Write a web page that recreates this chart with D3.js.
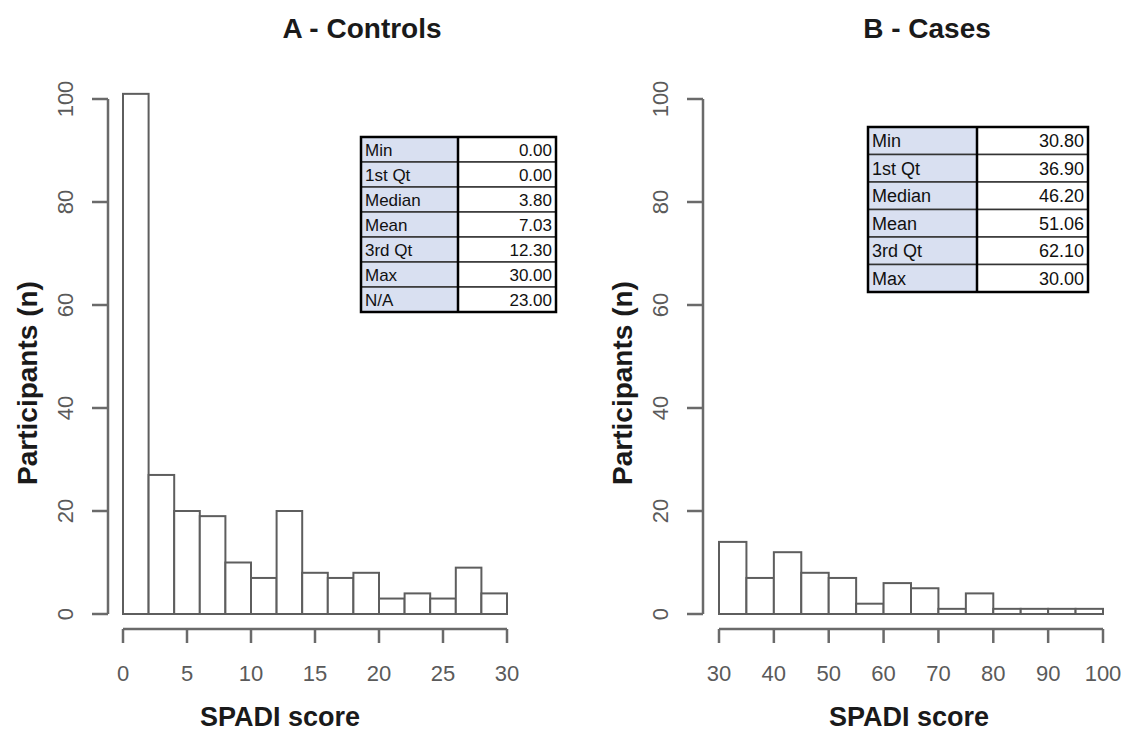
<!DOCTYPE html>
<html>
<head>
<meta charset="utf-8">
<script src="https://cdn.jsdelivr.net/npm/d3@7"></script>
<style>
  body { margin: 0; background: #fff; }
  svg { display: block; font-family: "Liberation Sans", Arial, sans-serif; }
</style>
</head>
<body>
<svg id="chart" width="1126" height="734"></svg>
<script>
// Panel A - controls (bins of 2 points)
const controlsEdges = [0, 2, 4, 6, 8, 10, 12, 14, 16, 18, 20, 22, 24, 26, 28, 30];
const controlsCounts = [101, 27, 20, 19, 10, 7, 20, 8, 7, 8, 3, 4, 3, 9, 4];
const controlsTicks = [0, 5, 10, 15, 20, 25, 30];
const controlsStatLabels = ["Min", "1st Qt", "Median", "Mean", "3rd Qt", "Max", "N/A"];
const controlsStatValues = ["0.00", "0.00", "3.80", "7.03", "12.30", "30.00", "23.00"];

// Panel B - cases (bins of 5 points)
const casesEdges = [30, 35, 40, 45, 50, 55, 60, 65, 70, 75, 80, 85, 90, 95, 100];
const casesCounts = [14, 7, 12, 8, 7, 2, 6, 5, 1, 4, 1, 1, 1, 1];
const casesTicks = [30, 40, 50, 60, 70, 80, 90, 100];
const casesStatLabels = ["Min", "1st Qt", "Median", "Mean", "3rd Qt", "Max"];
const casesStatValues = ["30.80", "36.90", "46.20", "51.06", "62.10", "30.00"];

const yTicks = [0, 20, 40, 60, 80, 100];

const svg = d3.select("#chart");
const axisColor = "#6a6a6a";
const labelColor = "#5a5a5a";

function drawPanel(opt) {
  const g = svg.append("g");
  const x = d3.scaleLinear().domain(opt.xDomain).range([opt.x0, opt.x1]);
  const y = d3.scaleLinear().domain([0, 100]).range([614, 99]);

  // title
  g.append("text")
    .attr("x", opt.titleX).attr("y", 38)
    .attr("text-anchor", "middle")
    .attr("font-size", 28).attr("font-weight", "bold").attr("fill", "#1a1a1a")
    .text(opt.title);

  // bars
  const bins = opt.counts.map((c, i) => ({ a: opt.edges[i], b: opt.edges[i + 1], n: c }));
  g.selectAll("rect.bar")
    .data(bins)
    .join("rect")
    .attr("class", "bar")
    .attr("x", d => x(d.a))
    .attr("width", d => x(d.b) - x(d.a))
    .attr("y", d => y(d.n))
    .attr("height", d => y(0) - y(d.n))
    .attr("fill", "#fff")
    .attr("stroke", "#5e5e5e")
    .attr("stroke-width", 2);

  // y axis (R style: line spans tick range, rotated labels)
  const ya = g.append("g");
  ya.append("line")
    .attr("x1", opt.yAxisX).attr("x2", opt.yAxisX)
    .attr("y1", y(0)).attr("y2", y(100))
    .attr("stroke", axisColor).attr("stroke-width", 2.5);
  ya.selectAll("line.tick")
    .data(yTicks)
    .join("line")
    .attr("class", "tick")
    .attr("x1", opt.yAxisX - 16).attr("x2", opt.yAxisX)
    .attr("y1", d => y(d)).attr("y2", d => y(d))
    .attr("stroke", axisColor).attr("stroke-width", 2.5);
  ya.selectAll("text")
    .data(yTicks)
    .join("text")
    .attr("transform", d => `translate(${opt.yAxisX - 35},${y(d)}) rotate(-90)`)
    .attr("text-anchor", "middle")
    .attr("font-size", 22).attr("fill", labelColor)
    .text(d => d);

  g.append("text")
    .attr("transform", `translate(${opt.yAxisX - 71},383) rotate(-90)`)
    .attr("text-anchor", "middle")
    .attr("font-size", 28).attr("font-weight", "bold").attr("fill", "#1a1a1a")
    .text("Participants (n)");

  // x axis
  const xa = g.append("g");
  xa.append("line")
    .attr("x1", x(opt.ticks[0])).attr("x2", x(opt.ticks[opt.ticks.length - 1]))
    .attr("y1", 629).attr("y2", 629)
    .attr("stroke", axisColor).attr("stroke-width", 2.5);
  xa.selectAll("line.tick")
    .data(opt.ticks)
    .join("line")
    .attr("class", "tick")
    .attr("x1", d => x(d)).attr("x2", d => x(d))
    .attr("y1", 629).attr("y2", 643)
    .attr("stroke", axisColor).attr("stroke-width", 2.5);
  xa.selectAll("text")
    .data(opt.ticks)
    .join("text")
    .attr("x", d => x(d)).attr("y", 681)
    .attr("text-anchor", "middle")
    .attr("font-size", 22).attr("fill", labelColor)
    .text(d => d);

  g.append("text")
    .attr("x", opt.xLabelX).attr("y", 726)
    .attr("text-anchor", "middle")
    .attr("font-size", 27).attr("font-weight", "bold").attr("fill", "#1a1a1a")
    .text("SPADI score");

  // summary table
  const t = opt.table;
  const rows = opt.statLabels.map((l, i) => ({ label: l, value: opt.statValues[i], i }));
  const tg = g.append("g");
  tg.selectAll("rect.lab")
    .data(rows)
    .join("rect")
    .attr("class", "lab")
    .attr("x", t.x).attr("y", d => t.y + d.i * t.rowH)
    .attr("width", t.split - t.x).attr("height", t.rowH)
    .attr("fill", "#d9e0f1").attr("stroke", "#333").attr("stroke-width", 1.5);
  tg.selectAll("rect.val")
    .data(rows)
    .join("rect")
    .attr("class", "val")
    .attr("x", t.split).attr("y", d => t.y + d.i * t.rowH)
    .attr("width", t.x1 - t.split).attr("height", t.rowH)
    .attr("fill", "#fff").attr("stroke", "#333").attr("stroke-width", 1.5);
  tg.selectAll("text.lab")
    .data(rows)
    .join("text")
    .attr("class", "lab")
    .attr("x", t.x + 4).attr("y", d => t.y + d.i * t.rowH + t.rowH / 2 + t.fs * 0.36)
    .attr("font-size", t.fs).attr("fill", "#111")
    .text(d => d.label);
  tg.selectAll("text.val")
    .data(rows)
    .join("text")
    .attr("class", "val")
    .attr("x", t.x1 - 4).attr("y", d => t.y + d.i * t.rowH + t.rowH / 2 + t.fs * 0.36)
    .attr("text-anchor", "end")
    .attr("font-size", t.fs).attr("fill", "#111")
    .text(d => d.value);
  tg.append("line")
    .attr("x1", t.split).attr("x2", t.split)
    .attr("y1", t.y).attr("y2", t.y + rows.length * t.rowH)
    .attr("stroke", "#000").attr("stroke-width", 2.5);
  tg.append("rect")
    .attr("x", t.x).attr("y", t.y)
    .attr("width", t.x1 - t.x).attr("height", rows.length * t.rowH)
    .attr("fill", "none").attr("stroke", "#000").attr("stroke-width", 2.5);
}

drawPanel({
  title: "A - Controls", titleX: 362, xLabelX: 280,
  xDomain: [0, 30], x0: 123, x1: 507, yAxisX: 108,
  edges: controlsEdges, counts: controlsCounts, ticks: controlsTicks,
  statLabels: controlsStatLabels, statValues: controlsStatValues,
  table: { x: 361, split: 458, x1: 556, y: 137, rowH: 25, fs: 17 }
});

drawPanel({
  title: "B - Cases", titleX: 927, xLabelX: 909,
  xDomain: [30, 100], x0: 719, x1: 1103, yAxisX: 703,
  edges: casesEdges, counts: casesCounts, ticks: casesTicks,
  statLabels: casesStatLabels, statValues: casesStatValues,
  table: { x: 868, split: 977, x1: 1088, y: 127, rowH: 27.5, fs: 18 }
});
</script>
</body>
</html>
